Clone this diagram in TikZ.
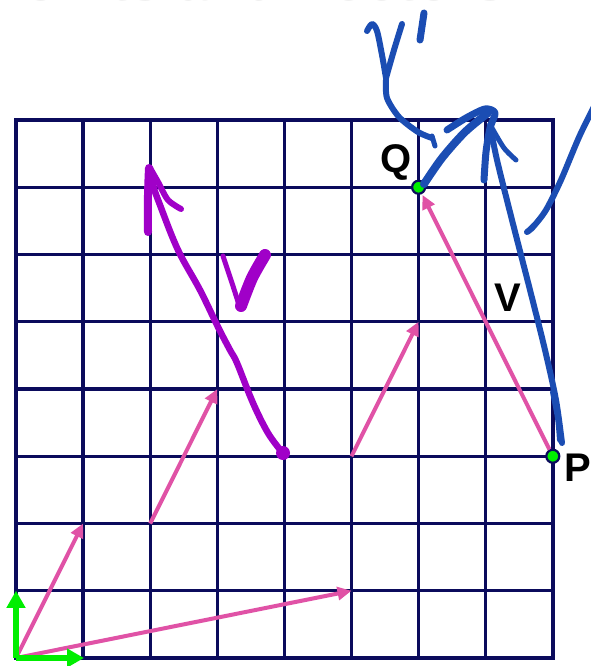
\documentclass[tikz,border=0pt]{standalone}
\usepackage{fontspec}
\setmainfont{Liberation Sans}
\usetikzlibrary{arrows.meta}
\definecolor{gridnavy}{HTML}{0B0B5C}
\definecolor{pinkv}{HTML}{E052A6}
\definecolor{greenv}{HTML}{00EE00}
\definecolor{purplev}{HTML}{A000C8}
\definecolor{bluev}{HTML}{1B4DB3}
\tikzset{
  gridline/.style={draw=gridnavy, line width=3.4pt, line cap=rect},
  pinkarrow/.style={draw=pinkv, line width=4pt, -{Triangle[length=14pt,width=13pt]}},
  axisarrow/.style={draw=greenv, line width=6pt, -{Triangle[length=17pt,width=18pt]}},
  pen/.style={line width=#1, line cap=round, line join=round},
  pen/.default=6pt,
  ptdot/.style={circle, fill=greenv, draw=gridnavy, line width=2.2pt, minimum size=13pt, inner sep=0pt},
  lbl/.style={font=\bfseries\fontsize{40}{40}\selectfont, text=black, inner sep=0pt},
}
\begin{document}
\begin{tikzpicture}[x=1pt, y=-1pt]
\useasboundingbox (0,0) rectangle (591,666);
\clip (0,0) rectangle (591,666);
\fill[white] (0,0) rectangle (591,666);
% cut-off title
\node[anchor=base east, font=\bfseries\fontsize{58}{60}\selectfont, text=black!10, inner sep=0pt] (title) at (507,0.5) {Points and Vectors};
% grid
\foreach \i in {0,...,8} {
  \draw[gridline] ({16+67.1*\i},120) -- ({16+67.1*\i},658);
  \draw[gridline] (16,{120+67.25*\i}) -- (553,{120+67.25*\i});
}
% grid points
\coordinate (O) at (16,658);
\coordinate (A) at (83.1,523.5);
\coordinate (B) at (351.5,590.75);
\coordinate (C) at (150.2,523.5);
\coordinate (D) at (217.3,389);
\coordinate (E) at (351.5,456.25);
\coordinate (F) at (418.6,321.75);
\coordinate (Px) at (16,590.75);
\coordinate (Py) at (84,658);
% pink vectors
\draw[pinkarrow] (O) -- (A);
\draw[pinkarrow] (O) -- (B);
\draw[pinkarrow] (C) -- (D);
\draw[pinkarrow] (E) -- (F);
% green axes
\draw[axisarrow] (O) -- (Px);
\draw[axisarrow] (O) -- (Py);
% points P and Q
\node[ptdot] (Q) at (418.6,187.25) {};
\node[ptdot] (P) at (552.8,456.25) {};
\draw[pinkarrow, shorten >=1pt] (P) -- (Q);
% purple handwriting
\draw[purplev, pen=6.5pt] plot[smooth, tension=0.6] coordinates {(282,452) (268,433) (253,403) (237,363) (230,350) (218,327) (200,290) (178,250) (160,205) (153,185) (150,168)};
\draw[purplev, pen=8pt] plot[smooth] coordinates {(148,232) (148,195) (149,168)};
\draw[purplev, pen=6pt] plot[smooth] coordinates {(150,168) (158,182) (168,200) (181,209)};
\fill[purplev] (283,453) circle (7pt);
\draw[purplev, pen=5pt] plot[smooth] coordinates {(223,256) (232,283) (240,308)};
\draw[purplev, pen=12pt] plot[smooth] coordinates {(241,306) (252,278) (265,255)};
% blue handwriting
\draw[bluev, pen=8pt] plot[smooth] coordinates {(424,184) (442,158) (465,132) (488,113)};
\draw[bluev, pen=7pt] plot[smooth] coordinates {(447,130) (466,118) (485,109) (495,113) (490,128) (486,152) (484,180)};
\draw[bluev, pen=5pt] plot[smooth] coordinates {(492,128) (504,148) (516,160)};
\draw[bluev, pen=6pt] plot[smooth] coordinates {(562,443) (556,400) (545,350) (530,290) (512,220) (497,160) (490,125)};
\draw[bluev, pen=6pt] plot[smooth] coordinates {(553,392) (558,418) (560,440)};
\draw[bluev, pen=6pt] plot[smooth] coordinates {(367,31) (372,24) (377,31) (382,55) (386,78)};
\draw[bluev, pen=6pt] plot[smooth] coordinates {(386,78) (394,50) (402,24)};
\draw[bluev, pen=7pt] (424,13) -- (420,40);
\draw[bluev, pen=6pt] plot[smooth] coordinates {(386,80) (387,98) (399,117) (418,132) (432,138)};
\draw[bluev, pen=5pt] (432,136) -- (435,146);
\draw[bluev, pen=6pt] plot[smooth] coordinates {(600,95) (580,135) (561,180) (546,210) (533,227) (527,232)};
\draw[bluev, pen=5pt] (527,232) -- (534,225);
% labels
\node[lbl] (Qlab) at (396,162) {Q};
\node[lbl] (Vlab) at (508,298) {V};
\node[lbl, anchor=west] (Plab) at (564,468) {P};
\end{tikzpicture}
\end{document}
